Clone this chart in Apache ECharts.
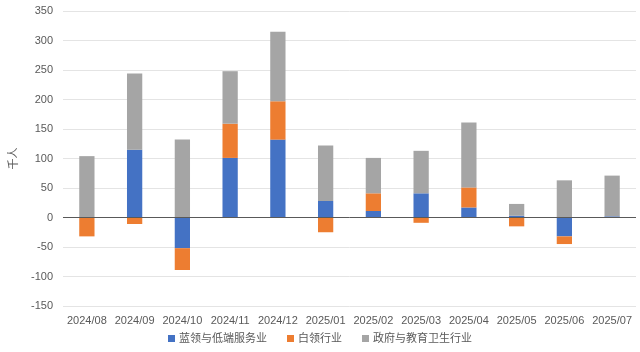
<!DOCTYPE html>
<html>
<head>
<meta charset="utf-8">
<script src="https://cdn.jsdelivr.net/npm/echarts@6/dist/echarts.min.js"></script>
<style>
  html, body { margin: 0; padding: 0; background: #fff; }
  #main { width: 640px; height: 352px; }
</style>
</head>
<body>
<div id="main"></div>
<script>
// 月份
var months = ['2024/08', '2024/09', '2024/10', '2024/11', '2024/12', '2025/01',
  '2025/02', '2025/03', '2025/04', '2025/05', '2025/06', '2025/07'];
// 各行业新增就业（千人）
var blueCollar = [0, 115, -52, 101, 132, 28, 11, 41, 17, 3, -32, 2];
var whiteCollar = [-32, -11, -37, 58, 65, -25, 30, -9, 34, -15, -13, 0];
var govEduHealth = [104, 129, 132, 89, 118, 94, 60, 72, 110, 20, 63, 69];
var seriesNames = ['蓝领与低端服务业', '白领行业', '政府与教育卫生行业'];

var chart = echarts.init(document.getElementById('main'));
var font = '"Liberation Sans", "Noto Sans CJK SC", sans-serif';

chart.setOption({
  animation: false,
  textStyle: { fontFamily: font },
  color: ['#4472C4', '#ED7D31', '#A5A5A5'],
  grid: { left: 52, right: 4, top: 11, bottom: 46 },
  legend: {
    bottom: 3,
    left: 'center',
    itemWidth: 7,
    itemHeight: 7,
    itemGap: 20,
    icon: 'rect',
    textStyle: { fontSize: 11, color: '#595959', padding: [0, 0, 0, -1] },
    data: seriesNames
  },
  xAxis: {
    type: 'category',
    data: months,
    axisLine: { show: false, onZero: false },
    axisTick: { show: false },
    axisLabel: { fontSize: 11, color: '#595959', margin: 9, interval: 0 }
  },
  yAxis: {
    type: 'value',
    name: '千人',
    nameLocation: 'middle',
    nameRotate: 90,
    nameGap: 44,
    nameTextStyle: { fontSize: 11, color: '#595959' },
    min: -150,
    max: 350,
    interval: 50,
    axisLabel: { fontSize: 11, color: '#595959', margin: 10 },
    splitLine: { lineStyle: { color: '#e4e4e4' } }
  },
  series: [
    {
      name: seriesNames[0],
      type: 'bar',
      stack: 'total',
      barWidth: '32%',
      data: blueCollar,
      markLine: {
        silent: true,
        symbol: 'none',
        label: { show: false },
        lineStyle: { color: '#595959', width: 1, type: 'solid' },
        data: [{ yAxis: 0 }]
      }
    },
    { name: seriesNames[1], type: 'bar', stack: 'total', data: whiteCollar },
    { name: seriesNames[2], type: 'bar', stack: 'total', data: govEduHealth }
  ]
});
</script>
</body>
</html>
